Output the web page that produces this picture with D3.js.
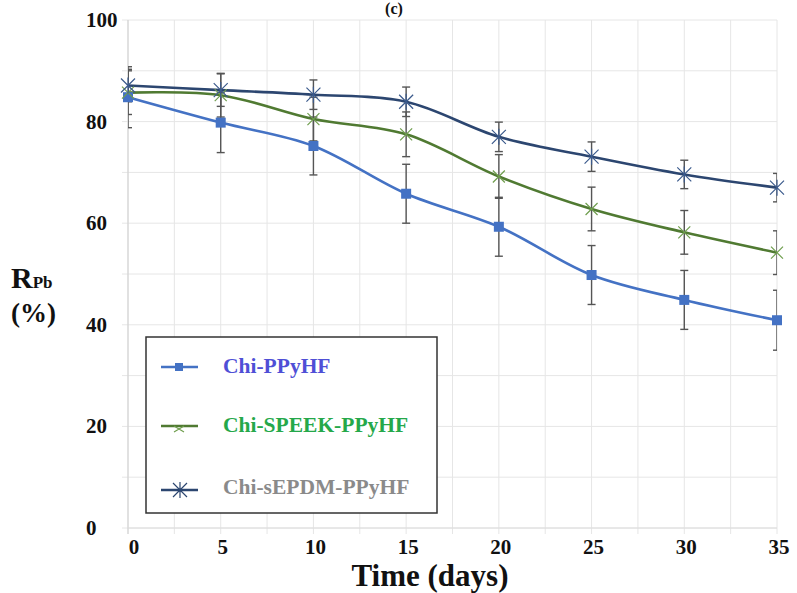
<!DOCTYPE html>
<style>
body { margin: 0; background: #fff; }
text { font-family: "Liberation Serif", "Times New Roman", serif; font-weight: bold; }
</style>
<svg width="797" height="593"></svg>
<script src="https://cdnjs.cloudflare.com/ajax/libs/d3/7.8.5/d3.min.js"></script>
<script>

// data (Pb removal %, mean and error)
var days = [0, 5, 10, 15, 20, 25, 30, 35];
var chiPPy = [84.8, 79.8, 75.2, 65.8, 59.3, 49.8, 44.9, 40.9];
var chiPPyErr = [6.0, 5.9, 5.7, 5.8, 5.8, 5.8, 5.8, 5.9];
var chiSpeek = [85.7, 85.2, 80.5, 77.5, 69.2, 62.8, 58.2, 54.2];
var chiSpeekErr = [4.3, 4.3, 4.3, 4.4, 4.3, 4.3, 4.3, 4.3];
var chiEpdm = [87.1, 86.2, 85.3, 83.9, 77.0, 73.1, 69.6, 67.0];
var chiEpdmErr = [3.2, 3.2, 2.9, 2.9, 2.9, 2.9, 2.8, 2.8];
var seriesNames = ["Chi-PPyHF", "Chi-SPEEK-PPyHF", "Chi-sEPDM-PPyHF"];
var xTicks = [0, 5, 10, 15, 20, 25, 30, 35];
var yTicks = [0, 20, 40, 60, 80, 100];

var svg = d3.select("svg");

var x = d3.scaleLinear().domain([0, 35]).range([128, 777]);
var y = d3.scaleLinear().domain([0, 100]).range([528, 20]);

var series = [
  {name: seriesNames[0], vals: chiPPy, err: chiPPyErr, line: "#4472c4", mark: "#4472c4", text: "#4f4fd6", shape: "square"},
  {name: seriesNames[1], vals: chiSpeek, err: chiSpeekErr, line: "#507a32", mark: "#6f9e4e", text: "#25a84a", shape: "cross"},
  {name: seriesNames[2], vals: chiEpdm, err: chiEpdmErr, line: "#2c4670", mark: "#3b5a8c", text: "#8a8a8a", shape: "star"}
];

// clip for error bars (they get cut at the plot edges)
svg.append("defs").append("clipPath").attr("id", "plotclip")
  .append("rect").attr("x", 128).attr("y", 0).attr("width", 649).attr("height", 593);

// grid
var grid = svg.append("g");
grid.selectAll("line.v")
  .data(d3.range(0, 35.01, 2.5))
  .enter().append("line")
    .attr("x1", function(d) { return x(d); })
    .attr("x2", function(d) { return x(d); })
    .attr("y1", y(100)).attr("y2", y(0) + 6)
    .attr("stroke", "#e6e6e6").attr("stroke-width", 1);
grid.selectAll("line.h")
  .data(d3.range(0, 100.01, 10))
  .enter().append("line")
    .attr("x1", x(0) - 6).attr("x2", x(35))
    .attr("y1", function(d) { return y(d); })
    .attr("y2", function(d) { return y(d); })
    .attr("stroke", "#e6e6e6").attr("stroke-width", 1);

svg.append("line")
  .attr("x1", x(0)).attr("x2", x(0)).attr("y1", y(100)).attr("y2", y(0) + 6)
  .attr("stroke", "#cfcfcf");
svg.append("line")
  .attr("x1", x(0)).attr("x2", x(35)).attr("y1", y(0)).attr("y2", y(0))
  .attr("stroke", "#dcdcdc");

// tick labels
svg.append("g").selectAll("text")
  .data(yTicks)
  .enter().append("text")
    .attr("x", 86)
    .attr("y", function(d) { return y(d) + 7; })
    .attr("font-size", 21)
    .attr("fill", "#111")
    .text(function(d) { return d; });

svg.append("g").selectAll("text")
  .data(xTicks)
  .enter().append("text")
    .attr("x", function(d) { return x(d) + (d == 0 ? 6 : 2); })
    .attr("y", 554)
    .attr("text-anchor", "middle")
    .attr("font-size", 21)
    .attr("fill", "#111")
    .text(function(d) { return d; });

// axis titles
svg.append("text")
  .attr("x", 430).attr("y", 586)
  .attr("text-anchor", "middle")
  .attr("font-size", 31)
  .attr("fill", "#111")
  .text("Time (days)");

var yl = svg.append("text").attr("x", 11).attr("y", 288).attr("fill", "#111");
yl.append("tspan").attr("font-size", 30).text("R");
yl.append("tspan").attr("font-size", 17).text("Pb");
svg.append("text")
  .attr("x", 11).attr("y", 322)
  .attr("font-size", 27)
  .attr("fill", "#111")
  .text("(%)");

// panel title at the top edge
svg.append("text")
  .attr("x", 394).attr("y", 14)
  .attr("text-anchor", "middle")
  .attr("font-size", 16)
  .attr("fill", "#111")
  .text("(c)");

var line = d3.line()
  .x(function(d) { return x(d[0]); })
  .y(function(d) { return y(d[1]); })
  .curve(d3.curveCatmullRom.alpha(0.5));

series.forEach(function(s) {
  var pts = days.map(function(d, i) { return [d, s.vals[i]]; });
  svg.append("path")
    .datum(pts)
    .attr("d", line)
    .attr("fill", "none")
    .attr("stroke", s.line)
    .attr("stroke-width", 2.6);
});

// error bars
var eb = svg.append("g").attr("clip-path", "url(#plotclip)")
  .attr("stroke", "#555").attr("stroke-width", 1.4);
series.forEach(function(s) {
  days.forEach(function(d, i) {
    var cx = x(d), lo = y(s.vals[i] - s.err[i]), hi = y(s.vals[i] + s.err[i]);
    eb.append("line").attr("x1", cx).attr("x2", cx).attr("y1", lo).attr("y2", hi);
    eb.append("line").attr("x1", cx - 4).attr("x2", cx + 4).attr("y1", lo).attr("y2", lo);
    eb.append("line").attr("x1", cx - 4).attr("x2", cx + 4).attr("y1", hi).attr("y2", hi);
  });
});

function marker(g, shape, cx, cy, color) {
  if (shape == "square") {
    g.append("rect").attr("x", cx - 5).attr("y", cy - 5).attr("width", 10).attr("height", 10)
      .attr("fill", color);
  } else if (shape == "cross") {
    g.append("path").attr("d", "M" + (cx - 6) + "," + (cy - 6) + "L" + (cx + 6) + "," + (cy + 6) +
        "M" + (cx - 6) + "," + (cy + 6) + "L" + (cx + 6) + "," + (cy - 6))
      .attr("stroke", color).attr("stroke-width", 1.2).attr("fill", "none");
  } else {
    g.append("path").attr("d", "M" + (cx - 7) + "," + (cy - 7) + "L" + (cx + 7) + "," + (cy + 7) +
        "M" + (cx - 7) + "," + (cy + 7) + "L" + (cx + 7) + "," + (cy - 7) +
        "M" + cx + "," + (cy - 8) + "L" + cx + "," + (cy + 8))
      .attr("stroke", color).attr("stroke-width", 1.2).attr("fill", "none");
  }
}

var marks = svg.append("g");
series.forEach(function(s) {
  days.forEach(function(d, i) {
    marker(marks, s.shape, x(d), y(s.vals[i]), s.mark);
  });
});

// legend
var legend = svg.append("g");
legend.append("rect")
  .attr("x", 146).attr("y", 337).attr("width", 291).attr("height", 176)
  .attr("fill", "#fff").attr("stroke", "#333").attr("stroke-width", 1.5);

var legY = [367, 426, 490];
var legTextY = [373, 432, 494];
series.forEach(function(s, i) {
  legend.append("line")
    .attr("x1", 161).attr("x2", 198).attr("y1", legY[i]).attr("y2", legY[i])
    .attr("stroke", s.line).attr("stroke-width", 2.6);
  if (s.shape == "square") {
    legend.append("rect").attr("x", 175).attr("y", legY[i] - 4).attr("width", 8).attr("height", 8).attr("fill", s.mark);
  } else if (s.shape == "cross") {
    legend.append("path").attr("d", "M174," + legY[i] + "L184," + (legY[i] + 6) + "M174," + (legY[i] + 6) + "L184," + legY[i])
      .attr("stroke", s.mark).attr("stroke-width", 1.2);
  } else {
    marker(legend, "star", 180, legY[i], s.line);
  }
  legend.append("text")
    .attr("x", 223).attr("y", legTextY[i])
    .attr("font-size", 21.5)
    .attr("fill", s.text)
    .text(s.name);
});

</script>
